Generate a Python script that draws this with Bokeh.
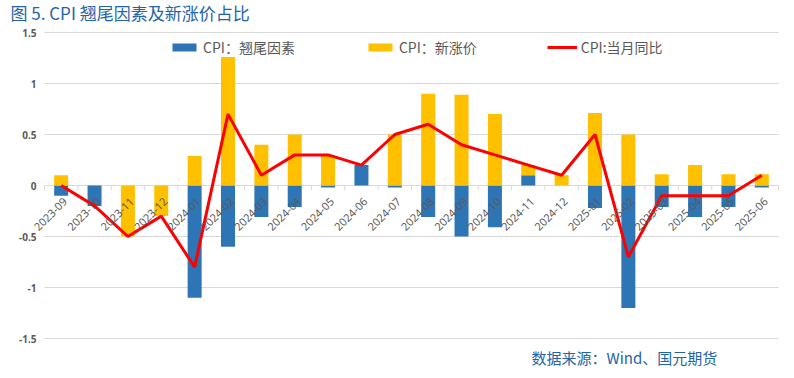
from bokeh.plotting import figure
from bokeh.models import Range1d, ColumnDataSource
from bokeh.core.properties import value
from bokeh.embed import file_html
from bokeh.resources import INLINE

months = ["2023-09", "2023-10", "2023-11", "2023-12", "2024-01", "2024-02",
          "2024-03", "2024-04", "2024-05", "2024-06", "2024-07", "2024-08",
          "2024-09", "2024-10", "2024-11", "2024-12", "2025-01", "2025-02",
          "2025-03", "2025-04", "2025-05", "2025-06"]
carry = [-0.10, -0.20, 0.00, 0.00, -1.10, -0.60, -0.31, -0.21, -0.02, 0.20, -0.02,
         -0.31, -0.50, -0.41, 0.10, 0.00, -0.22, -1.20, -0.21, -0.31, -0.21, -0.02]
newp = [0.10, 0.00, -0.50, -0.30, 0.29, 1.30, 0.40, 0.50, 0.30, 0.00, 0.50,
        0.90, 0.89, 0.70, 0.10, 0.10, 0.71, 0.50, 0.11, 0.20, 0.11, 0.11]
yoy = [0.0, -0.2, -0.5, -0.3, -0.8, 0.7, 0.1, 0.3, 0.3, 0.2, 0.5,
       0.6, 0.4, 0.3, 0.2, 0.1, 0.5, -0.7, -0.1, -0.1, -0.1, 0.1]
y_ticks = [-1.5, -1.0, -0.5, 0.0, 0.5, 1.0, 1.5]
y_tick_labels = ["-1.5", "-1", "-0.5", "0", "0.5", "1", "1.5"]

names = ["CPI：翘尾因素", "CPI：新涨价", "CPI:当月同比"]
title_text = "图 5.  CPI 翘尾因素及新涨价占比"
source_text = "数据来源：Wind、国元期货"

BLUE = "#2E75B6"
YELLOW = "#FFC000"
RED = "#FF0000"
GRAY = "#595959"
GRID = "#D9D9D9"
TXTBLUE = "#2563A8"

# layout (pixels)
W, H = 786, 370
PLOT_L, PLOT_R, PLOT_T, PLOT_B = 44, 778, 32, 338

n = len(months)
xs = list(range(n))
ppx = (PLOT_R - PLOT_L) / n                 # px per category
ppy = (PLOT_B - PLOT_T) / 3.0               # px per y unit
x0 = -0.5 - PLOT_L / ppx
x1 = x0 + W / ppx
y1 = 1.5 + PLOT_T / ppy
y0 = y1 - H / ppy

# Excel-like stacking: positives on positives, negatives on negatives
c_bot, c_top, n_bot, n_top = [], [], [], []
for c, v in zip(carry, newp):
    c_bot.append(0.0)
    c_top.append(c)
    base = c if ((v >= 0 and c >= 0) or (v < 0 and c < 0)) else 0.0
    n_bot.append(base)
    n_top.append(base + v)

p = figure(width=W, height=H, output_backend="svg", toolbar_location=None,
           x_range=Range1d(x0, x1), y_range=Range1d(y0, y1),
           x_axis_type=None, y_axis_type=None,
           min_border_left=0, min_border_right=0, min_border_top=0, min_border_bottom=0)
p.outline_line_color = None
p.background_fill_color = "white"
p.border_fill_color = "white"

# horizontal gridlines
p.segment(x0=[-0.5] * len(y_ticks), y0=y_ticks, x1=[n - 0.5] * len(y_ticks), y1=y_ticks,
          line_color=GRID, line_width=1)
# y tick labels
p.text(x=[-0.5] * len(y_ticks), y=y_ticks, text=y_tick_labels, x_offset=-8,
       text_align="right", text_baseline="middle", text_font=value("Noto Sans"),
       text_font_size=value("10px"), text_font_style="bold", text_color=GRAY)

# category tick marks on zero line
bounds = [i - 0.5 for i in range(n + 1)]
p.segment(x0=bounds, y0=[0.0] * len(bounds), x1=bounds, y1=[-5 / ppy] * len(bounds),
          line_color=GRID, line_width=1)

src = ColumnDataSource(dict(x=xs, cb=c_bot, ct=c_top, nb=n_bot, nt=n_top, y=yoy,
                            lab=months, zero=[0.0] * n))
p.vbar(x="x", bottom="cb", top="ct", width=0.42, source=src, fill_color=BLUE,
       line_color=None, legend_label=names[0])
p.vbar(x="x", bottom="nb", top="nt", width=0.42, source=src, fill_color=YELLOW,
       line_color=None, legend_label=names[1])
p.line(x="x", y="y", source=src, line_color=RED, line_width=3, legend_label=names[2])

# category labels
p.text(x="x", y="zero", text="lab", source=src, angle=0.785398,
       text_align="right", text_baseline="middle", x_offset=4, y_offset=14,
       text_font=value("Noto Sans"), text_font_size=value("11px"),
       text_color=GRAY)

# title and source
p.text(x=[x0 + 10 / ppx], y=[y1 - 12 / ppy], text=[title_text],
       text_align="left", text_baseline="middle", text_font=value("Noto Sans CJK SC"),
       text_font_size=value("17px"), text_color=TXTBLUE)
p.text(x=[x0 + 531 / ppx], y=[y1 - 357 / ppy], text=[source_text],
       text_align="left", text_baseline="middle", text_font=value("Noto Sans CJK SC"),
       text_font_size=value("15px"), text_color=TXTBLUE)

lg = p.legend[0]
lg.orientation = "horizontal"
lg.location = (169, 313)
lg.border_line_color = None
lg.background_fill_color = "white"
lg.background_fill_alpha = 1.0
lg.padding = 0
lg.margin = 0
lg.spacing = 70
lg.glyph_width = 30
lg.glyph_height = 10
lg.label_standoff = 4
lg.label_text_font = "Noto Sans CJK SC"
lg.label_text_font_size = "14px"
lg.label_text_color = GRAY

open("out.html", "w").write(file_html(p, INLINE))
